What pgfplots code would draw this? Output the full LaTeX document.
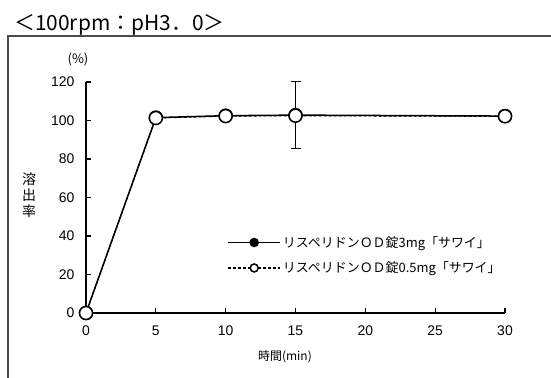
\documentclass[border=0pt]{standalone}
\usepackage{fontspec}
\setmainfont{Liberation Sans}
\newfontfamily\jp{Noto Sans CJK JP}
\usepackage{pgfplots}
\pgfplotsset{compat=1.18}

\begin{document}
\begin{tikzpicture}
% page = reference area, axis origin at (0,0)
\path[use as bounding box] (-86bp,-65bp) rectangle (465bp,313bp);
\draw[black!70, line width=1.2bp] (-78bp,-70bp) -- (-78bp,277bp) -- (470bp,277bp);
\node[anchor=west, inner sep=0pt, font=\jp\fontsize{21}{21}\selectfont] at (-72bp,288bp) {＜100rpm：pH3．0＞};

\begin{axis}[
  scale only axis, width=419bp, height=231bp,
  xmin=0, xmax=30, ymin=0, ymax=120,
  axis x line=bottom, axis y line=left,
  axis line style={-, line width=1.2bp},
  xtick={0,5,...,30}, ytick={0,20,...,120},
  tick align=inside, major tick length=5bp,
  tick style={line width=1.2bp, black},
  ticklabel style={font=\fontsize{14}{14}\selectfont},
  xticklabel style={yshift=-9bp},
  yticklabel style={xshift=-8bp},
  /pgf/number format/assume math mode=true,
  clip=false,
  legend style={draw=none, fill=none, at={(0.33,0.25)}, anchor=west,
    font=\jp\fontsize{13}{13}\selectfont, row sep=9bp},
  legend cell align=left,
  legend image code/.code={\draw[mark size=4bp, mark repeat=2, mark phase=2]
    plot coordinates {(0bp,0bp) (26bp,0bp) (52bp,0bp)};},
]
\addplot[black, line width=1.5bp, mark=*, mark size=6.5bp,
  mark options={solid, fill=black},
  error bars/.cd, y dir=both, y explicit,
  error bar style={line width=1.2bp},
  error mark options={rotate=90, mark size=5bp, line width=1.2bp}]
  table[x=t, y=v, y error=e] {
t v e
0 0 0
5 101.5 0
10 102.5 0
15 102.8 17.5
30 102.3 0
};
\addlegendentry{リスペリドンＯＤ錠3mg「サワイ」}
\addplot[black, line width=1.2bp, dash pattern=on 3bp off 2bp, mark=*, mark size=6.5bp,
  mark options={solid, fill=white, line width=1.5bp}]
  table[x=t, y=v] {
t v
0 0
5 101.3
10 102.3
15 102.5
30 102.2
};
\addlegendentry{リスペリドンＯＤ錠0.5mg「サワイ」}
\end{axis}

\node[font=\jp\fontsize{13}{13}\selectfont] at (-8bp,254bp) {(\%)};
\begin{scope}[every node/.style={font=\jp\fontsize{14}{14}\selectfont, inner sep=0pt}]
\node at (-57bp,134bp) {溶};
\node at (-57bp,118bp) {出};
\node at (-57bp,102bp) {率};
\end{scope}
\node[font=\jp\fontsize{12}{12}\selectfont] at (199bp,-44bp) {時間(min)};
\end{tikzpicture}
\end{document}
